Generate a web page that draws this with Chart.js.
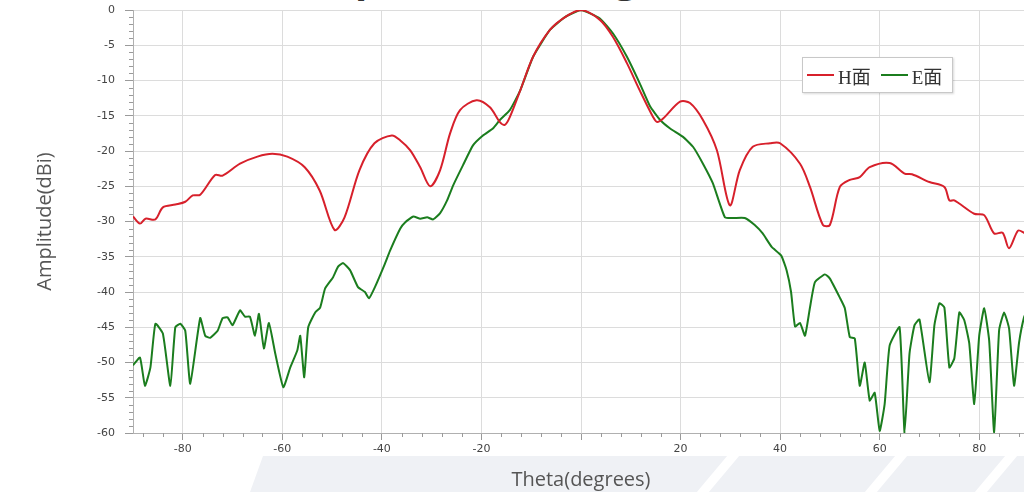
<!DOCTYPE html>
<html>
<head>
<meta charset="utf-8">
<script src="https://cdn.jsdelivr.net/npm/chart.js@4/dist/chart.umd.min.js"></script>
<style>
  html, body { margin: 0; padding: 0; background: #fff; }
  body { width: 1024px; height: 492px; overflow: hidden; position: relative; }
  .band { position: absolute; left: 0; top: 456px; width: 1024px; height: 36px; background: #eff1f5;
          clip-path: polygon(263px 0, 1024px 0, 1024px 36px, 250px 36px); overflow: hidden; }
  .stripe { position: absolute; top: 0; height: 36px; width: 12px; background: #fff; transform: skewX(-40deg); }
  .title { position: absolute; left: 288px; top: -43px; font: bold 40px "Open Sans", sans-serif;
           line-height: 40px; color: #333; white-space: nowrap; }
  .wrap { position: absolute; left: 0; top: 0; width: 1040px; height: 492px; }
  #legend { position: absolute; left: 802px; top: 57px; width: 151px; height: 36px; background: #fff;
            border: 1px solid #c8c8c8; box-shadow: 1px 1px 2px rgba(0,0,0,0.15); box-sizing: border-box;
            display: flex; align-items: center; padding-left: 4px; white-space: nowrap;
            font: 19px "Liberation Serif", "Noto Sans CJK SC", serif; color: #333; }
  #legend span.item { display: flex; align-items: center; margin-right: 10px; flex: none; }
  #legend span.swatch { display: inline-block; width: 27px; height: 1.5px; margin-right: 4px; }
</style>
</head>
<body>
<div class="band">
  <div class="stripe" style="left:712px"></div>
  <div class="stripe" style="left:880px"></div>
  <div class="stripe" style="left:990px"></div>
</div>
<div class="title">Amplitude vs Angle</div>
<div class="wrap"><canvas id="chart" width="1040" height="492"></canvas></div>
<div id="legend"></div>
<script>
// H plane (red)
const thetaH = [-90, -88.6, -87.5, -85.5, -84, -81.5, -79.5, -78, -76.5, -73.5, -72, -68.5, -65, -62, -59,
  -55.5, -52.5, -49.5, -47.5, -44.5, -41.5, -38, -36.3, -34.3, -32.3, -30.3, -28.3, -26.3, -24.3, -21,
  -18.3, -16.3, -15.3, -14.3, -12.2, -9.6, -6.2, -3.2, 0, 3.8, 6.4, 9.2, 11.8, 14.5, 15.3, 16.5, 19.9,
  21.9, 24.5, 27.3, 29.9, 31.9, 34.5, 38, 40, 44, 46, 48.6, 50, 52, 54, 56, 58, 62, 65, 66.5, 70, 73,
  74, 75, 79, 81, 83, 84.7, 86, 87.8, 89, 90];
const ampH = [-29.3, -30.3, -29.6, -29.7, -28, -27.6, -27.2, -26.3, -26.2, -23.4, -23.5, -21.8, -20.8, -20.4, -20.8,
  -22.3, -25.6, -31.2, -29.4, -22.7, -18.9, -17.8, -18.5, -19.9, -22.3, -25, -22.7, -17.5, -14.2, -12.8,
  -13.8, -15.9, -16.3, -15.2, -11.4, -6.6, -2.8, -1, 0, -1.4, -3.8, -7.5, -11.4, -15.2, -15.9, -15.4, -13,
  -13.2, -15.6, -19.9, -27.7, -22.7, -19.4, -18.9, -18.9, -21.8, -25.1, -30.5, -30.5, -25.1, -24.1, -23.7, -22.3, -21.7, -23.2, -23.3, -24.4, -25.1,
  -27, -27, -28.9, -29.1, -31.7, -31.6, -33.8, -31.3, -31.6, -32];

// E plane (green)
const thetaE = [-90, -88.6, -87.6, -86.5, -85.5, -84, -82.5, -81.5, -80.5, -79.5, -78.5, -76.5, -75.5, -74.5,
  -73, -72, -71, -70, -68.5, -67.5, -66.5, -65.5, -64.7, -63.7, -62.7, -61.4, -59.8, -58.4, -57, -56.4,
  -55.6, -54.8, -53.4, -52.4, -51.4, -49.8, -48.8, -47.8, -46.4, -44.8, -43.4, -42.6, -41.4, -39.4, -38.4,
  -36.3, -35.3, -33.7, -32.3, -30.9, -29.7, -28.3, -26.9, -25.7, -23.7, -21.7, -19.7, -17.7, -16.3, -14.3,
  -12.2, -9.6, -6.2, -3.2, 0, 3.8, 6.4, 9.2, 11.8, 13.9, 15.9, 17.9, 20.5, 22.5, 24.5, 26.5, 28.9, 30.5,
  32.9, 34.9, 36.5, 38.3, 40.2, 41.3, 42.2, 43, 44, 45, 46, 47, 49, 50, 52, 53, 54, 55, 56, 57, 58, 59,
  60, 61, 62, 64, 65, 66, 67, 68, 70, 71, 72, 73, 74, 75, 76, 77, 78, 79, 80, 81, 82, 83, 84, 85, 86,
  87, 88, 89, 90];
const ampE = [-50.4, -49.3, -53.3, -50.7, -44.5, -45.9, -53.3, -45, -44.5, -45.5, -53, -43.7, -46.2, -46.5,
  -45.5, -43.7, -43.6, -44.7, -42.6, -43.5, -43.5, -46.2, -43.1, -48, -44.4, -48.8, -53.5, -50.7, -48.3, -46.2,
  -52.1, -45, -42.9, -42.2, -39.5, -37.9, -36.4, -35.9, -36.9, -39.3, -40, -40.9, -39.3, -36, -34.2,
  -31, -30.1, -29.3, -29.6, -29.4, -29.7, -28.8, -27, -24.9, -22, -19.2, -17.8, -16.8, -15.6, -14.2,
  -11.4, -6.6, -2.8, -1, 0, -1.2, -3.3, -6.6, -10.4, -13.7, -15.6, -16.8, -18, -19.4, -21.8, -24.6, -29.4, -29.5,
  -29.5, -30.5, -31.7, -33.6, -34.8, -36.9, -40, -44.9, -44.4, -46.2, -42.2, -38.6, -37.5, -38.1, -40.8, -42.3, -46.4, -46.6, -53.3, -50, -55.4, -54.3,
  -59.7, -55.9, -47.6, -45, -60, -48.7, -44.7, -43.9, -52.8, -44.7, -41.6, -42.2, -50.7, -49.4, -42.9, -44, -47.3, -55.9, -46.2, -42.3, -46.9, -59.9, -45.4, -42.9, -45.2,
  -53.3, -47.2, -43.6, -42];

const seriesLabels = ['H面', 'E面'];
const xMin = -90, xMax = 90, yMin = -60, yMax = 0;

const toPoints = (xs, ys) => xs.map((x, i) => ({ x: x, y: ys[i] }));

// small tick marks between the labelled ones
const minorTicks = {
  id: 'minorTicks',
  afterDraw(chart) {
    const { ctx, scales: { x, y } } = chart;
    ctx.save();
    ctx.strokeStyle = '#9a9a9a';
    ctx.lineWidth = 1;
    ctx.beginPath();
    for (let v = yMin; v <= yMax; v += 1) {
      if (v % 5 === 0) continue;
      const py = Math.round(y.getPixelForValue(v)) + 0.5;
      ctx.moveTo(x.left - 4, py);
      ctx.lineTo(x.left, py);
    }
    for (let v = -88; v <= 88; v += 4) {
      if (v % 20 === 0) continue;
      const px = Math.round(x.getPixelForValue(v)) + 0.5;
      ctx.moveTo(px, y.bottom);
      ctx.lineTo(px, y.bottom + 4);
    }
    ctx.stroke();
    ctx.restore();
  }
};

const chart = new Chart(document.getElementById('chart'), {
  type: 'line',
  data: {
    datasets: [
      {
        label: seriesLabels[0],
        data: toPoints(thetaH, ampH),
        borderColor: '#d7202b',
        borderWidth: 2,
        pointRadius: 0,
        tension: 0.3
      },
      {
        label: seriesLabels[1],
        data: toPoints(thetaE, ampE),
        borderColor: '#1b7d1e',
        borderWidth: 2,
        pointRadius: 0,
        tension: 0.15
      }
    ]
  },
  options: {
    responsive: false,
    animation: false,
    layout: { padding: { top: 10, right: 11, bottom: 0, left: 0 } },
    plugins: {
      legend: { display: false },
      tooltip: { enabled: false }
    },
    scales: {
      x: {
        type: 'linear',
        min: xMin,
        max: xMax,
        afterFit: scale => {
          scale.height = 59;
          scale.paddingLeft = 0;
          scale.paddingRight = 0;
        },
        afterBuildTicks: scale => {
          scale.ticks = [];
          for (let v = -80; v <= 80; v += 20) scale.ticks.push({ value: v });
        },
        ticks: {
          callback: v => (v === 0 ? '' : v),
          font: { family: 'DejaVu Sans', size: 11 },
          color: '#444',
          padding: 3,
          maxRotation: 0
        },
        grid: { color: '#dcdcdc', tickColor: '#9a9a9a', tickLength: 7 },
        border: { color: '#b0b0b0' },
        title: {
          display: true,
          text: 'Theta(degrees)',
          font: { family: 'Open Sans', size: 20 },
          color: '#555',
          padding: { top: 4, bottom: 0 }
        }
      },
      y: {
        min: yMin,
        max: yMax,
        afterFit: scale => {
          scale.width = 133;
          scale.paddingTop = 0;
          scale.paddingBottom = 0;
        },
        ticks: {
          stepSize: 5,
          font: { family: 'DejaVu Sans', size: 11 },
          color: '#444',
          padding: 10
        },
        grid: { color: '#dcdcdc', tickColor: '#9a9a9a', tickLength: 8 },
        border: { color: '#b0b0b0' },
        title: {
          display: true,
          text: 'Amplitude(dBi)',
          font: { family: 'Open Sans', size: 20 },
          color: '#555',
          padding: { top: 33, bottom: 0 }
        }
      }
    }
  },
  plugins: [minorTicks]
});

// legend box built from the datasets
const legend = document.getElementById('legend');
chart.data.datasets.forEach(ds => {
  const item = document.createElement('span');
  item.className = 'item';
  const sw = document.createElement('span');
  sw.className = 'swatch';
  sw.style.background = ds.borderColor;
  item.appendChild(sw);
  item.appendChild(document.createTextNode(ds.label));
  legend.appendChild(item);
});
</script>
</body>
</html>
